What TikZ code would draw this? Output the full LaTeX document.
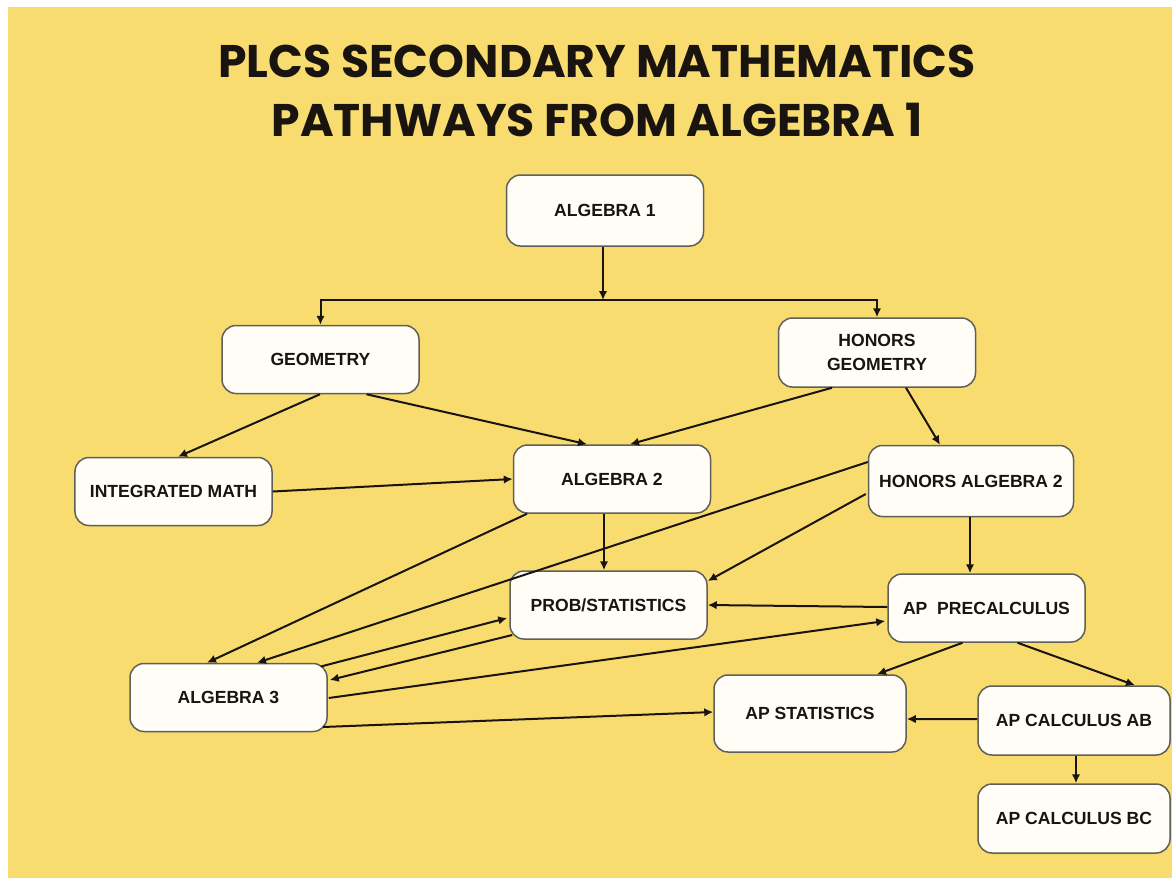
\documentclass[tikz,border=0pt]{standalone}
\usepackage{fontspec}
\usepackage{tikz}
\usetikzlibrary{arrows.meta,calc}
\newfontfamily\titlefont{Poppins}
\newfontfamily\boxfont{Liberation Sans}
\definecolor{plcsyellow}{RGB}{249,220,112}
\definecolor{plcscream}{RGB}{255,253,246}
\definecolor{plcsgray}{RGB}{95,95,90}
\definecolor{plcsink}{RGB}{25,20,15}

\begin{document}
\begin{tikzpicture}[x=0.2mm, y=-0.2mm,
        course/.style={draw=plcsgray, line width=0.3mm, fill=plcscream, rounded corners=2.8mm, minimum width=39.4mm, minimum height=13.6mm, inner sep=0pt, align=center, text=plcsink, font=\boxfont\bfseries\fontsize{10}{13.6}\selectfont},
        link/.style={-{Latex[length=1.8mm,width=1.7mm]}, line width=0.4mm, draw=plcsink},
        heading/.style={align=center, text=plcsink, font=\titlefont\bfseries\fontsize{26}{33.6}\selectfont}
      ]
      \useasboundingbox (0,0) rectangle (1172,878);
      \fill[white] (0,0) rectangle (1172,878);
      \fill[plcsyellow] (8,7) rectangle (1172,878);

      \node[heading] (title) at (597,91) {PLCS SECONDARY MATHEMATICS\\PATHWAYS FROM ALGEBRA 1};

      \node[course, minimum height=14.2mm] (alg1) at (605,210.5) {ALGEBRA 1};
      \node[course] (geo) at (320.5,359.5) {GEOMETRY};
      \node[course, minimum height=13.8mm] (hgeo) at (877,352.5) {HONORS\\GEOMETRY};

      \node[course] (intm) at (173.5,491.5) {INTEGRATED MATH};
      \node[course] (alg2) at (612,479) {ALGEBRA 2};
      \node[course, minimum width=41mm, minimum height=14.2mm] (halg2) at (971,481) {HONORS ALGEBRA 2};

      \node[course] (prob) at (608.5,605) {PROB/STATISTICS};
      \node[course] (prec) at (986.5,608) {AP\ \ PRECALCULUS};
      \node[course] (alg3) at (228.5,697.5) {ALGEBRA 3};

      \node[course, minimum width=38.4mm, minimum height=15.4mm] (apstat) at (810,713.5) {AP STATISTICS};
      \node[course, minimum width=38.4mm, minimum height=13.8mm] (calcab) at (1074,720.5) {AP CALCULUS AB};
      \node[course, minimum width=38.4mm, minimum height=13.8mm] (calcbc) at (1074,818.5) {AP CALCULUS BC};

      \coordinate (split) at (603,300);
      \draw[link] ($(alg1.south)+(-2,0)$) -- (split);
      \draw[link] (split) -| (geo.north);
      \draw[link] (split) -| (hgeo.north);

      \draw[link] ($(geo.south)+(-0.5,0)$) -- ($(intm.north)+(4.5,0)$);
      \draw[link] ($(geo.south)+(46,0)$) -- ($(alg2.north)+(-25,0)$);
      \draw[link] ($(hgeo.south)+(-45,0)$) -- ($(alg2.north)+(18,0)$);
      \draw[link] ($(hgeo.south)+(29,0)$) -- ($(halg2.north)+(-31,0)$);

      \draw[link] (intm.east) -- (alg2.west);
      \draw[link] ($(alg2.south)+(-8,0)$) -- ($(prob.north)+(-4.5,0)$);
      \draw[link] ($(alg2.south)+(-85,0)$) -- ($(alg3.north)+(-21.5,0)$);
      \draw[link] ($(halg2.west)+(0,-19)$) -- ($(alg3.north)+(28.5,0)$);
      \draw[link] ($(halg2.west)+(-2,13)$) -- ($(prob.east)+(0,-24)$);
      \draw[link] ($(halg2.south)+(-1,0)$) -- ($(prec.north)+(-16.5,0)$);
      \draw[link] ($(prec.west)+(0,-1)$) -- (prob.east);

      \draw[link] ($(alg3.east)+(-7,-31)$) -- ($(prob.west)+(-2,13)$);
      \draw[link] ($(prob.west)+(3,30)$) -- ($(alg3.east)+(2,-17.5)$);
      \draw[link] ($(alg3.east)+(1,0.5)$) -- ($(prec.west)+(-2,13)$);
      \draw[link] ($(alg3.east)+(-5,29.5)$) -- ($(apstat.west)+(0,-1.5)$);

      \draw[link] ($(prec.south)+(-24,0)$) -- ($(apstat.north)+(67,0)$);
      \draw[link] ($(prec.south)+(31,0)$) -- ($(calcab.north)+(61,0)$);
      \draw[link] ($(calcab.west)+(0,-1.5)$) -- ($(apstat.east)+(0,5.5)$);
      \draw[link] ($(calcab.south)+(2,0)$) -- ($(calcbc.north)+(2,0)$);
    \end{tikzpicture}
\end{document}
